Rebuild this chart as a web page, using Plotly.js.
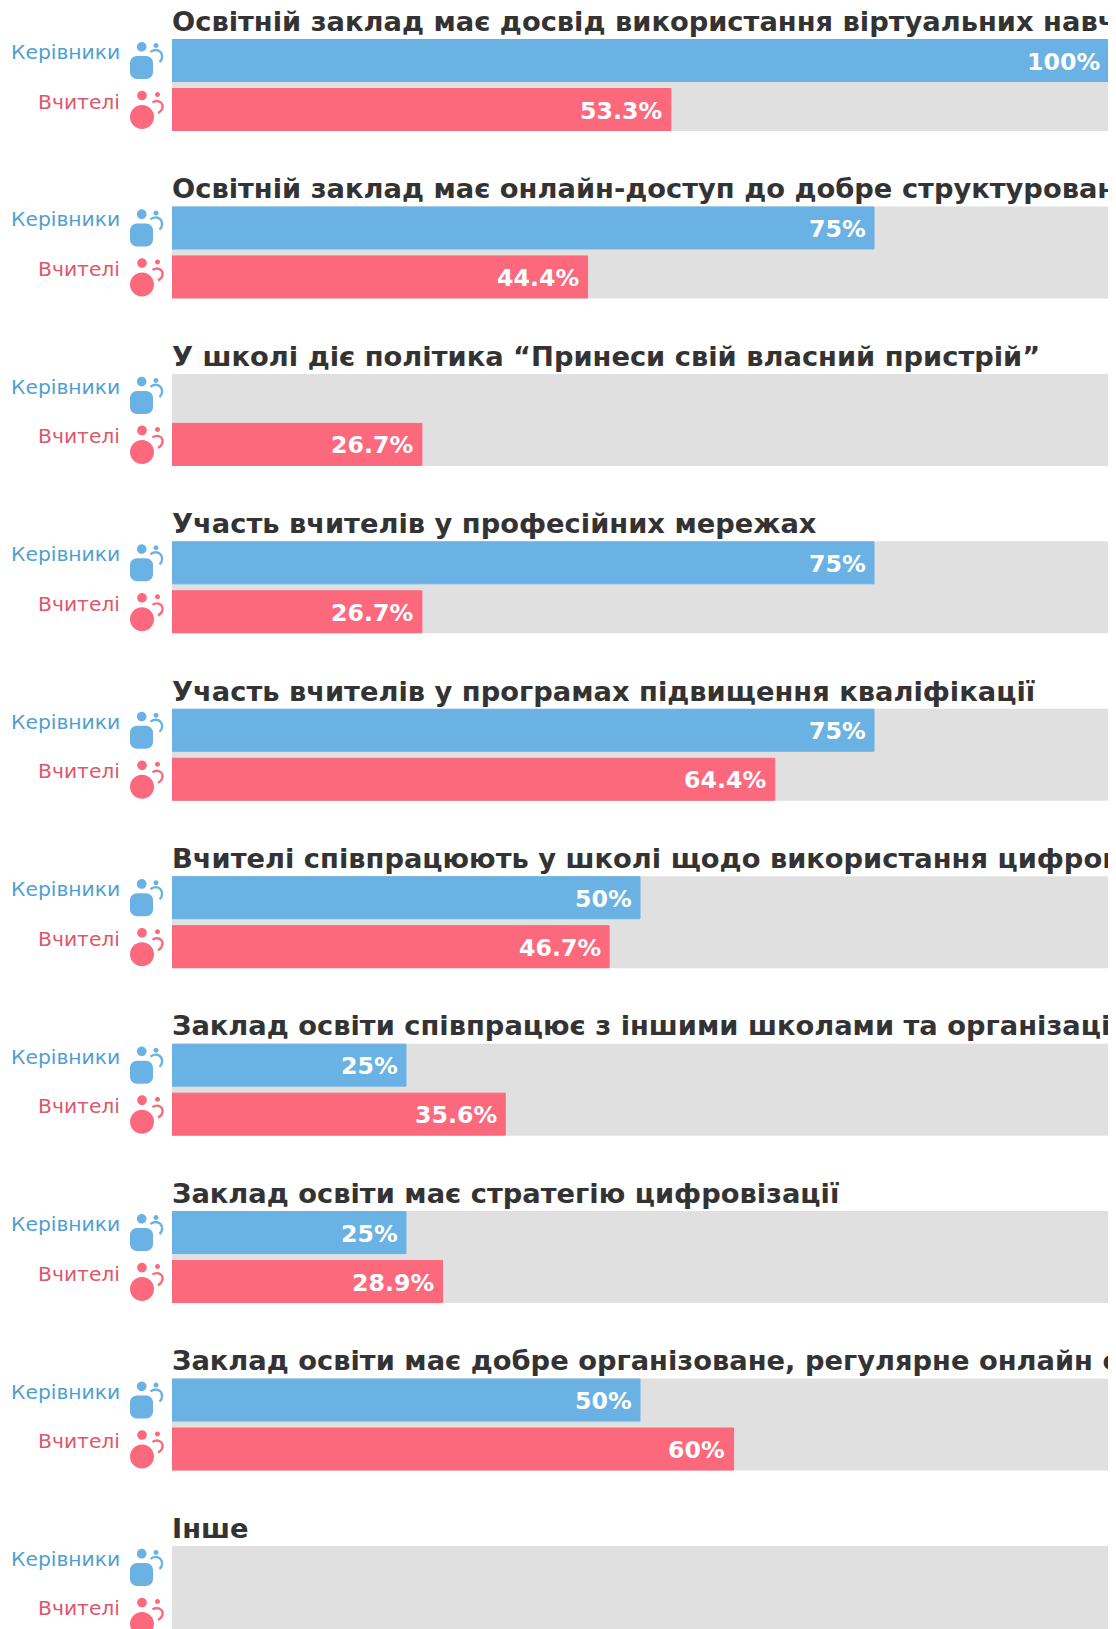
<!DOCTYPE html>
<html lang="uk">
<head>
<meta charset="utf-8">
<script src="https://cdn.plot.ly/plotly-3.0.1.min.js"></script>
<style>html,body{margin:0;padding:0;background:#fff;overflow:hidden}#chart{width:1116px;height:1629px}</style>
</head>
<body>
<div id="chart"></div>
<script>
// ---------- data ----------
const titles = [
  "Освітній заклад має досвід використання віртуальних навчальних середовищ",
  "Освітній заклад має онлайн-доступ до добре структурованих матеріалів",
  "У школі діє політика “Принеси свій власний пристрій”",
  "Участь вчителів у професійних мережах",
  "Участь вчителів у програмах підвищення кваліфікації",
  "Вчителі співпрацюють у школі щодо використання цифрових технологій",
  "Заклад освіти співпрацює з іншими школами та організаціями",
  "Заклад освіти має стратегію цифровізації",
  "Заклад освіти має добре організоване, регулярне онлайн спілкування",
  "Інше"
];
const managerLabel = "Керівники";
const teacherLabel = "Вчителі";
const managers = [100, 75, null, 75, 75, 50, 25, 25, 50, null];
const teachers = [53.3, 44.4, 26.7, 26.7, 64.4, 46.7, 35.6, 28.9, 60, null];
const fullScale = 100;

// ---------- style / layout constants ----------
const W = 1116, H = 1629, L = 172, R = 1108, TOP = 39, ROW = 167.44;
const BLUE = "#6bb2e4", RED = "#fc687c", GREY = "#e0e0e0";
const BLUE_TXT = "#4f9fd1", RED_TXT = "#e0566c", TITLE = "#333333";
const FONT = "DejaVu Sans";
const px = v => v / ROW;                    // pixels -> row units
const rows = titles.map((_, i) => i);
const at = off => rows.map(i => i + px(off));

const traces = [
  {type:"bar", orientation:"h", x:rows.map(() => fullScale), y:at(46), width:px(92),
   marker:{color:GREY}, hoverinfo:"skip", showlegend:false},
  {type:"bar", orientation:"h", name:managerLabel, x:managers, y:at(21.5), width:px(42),
   marker:{color:BLUE, line:{color:BLUE, width:1}}, hoverinfo:"x", showlegend:false},
  {type:"bar", orientation:"h", name:teacherLabel, x:teachers, y:at(70.5), width:px(42),
   marker:{color:RED, line:{color:RED, width:1}}, hoverinfo:"x", showlegend:false},
  {type:"scatter", mode:"text", x:rows.map(() => 0), y:at(-15), text:titles,
   textposition:"middle right", cliponaxis:true, hoverinfo:"skip", showlegend:false,
   textfont:{family:FONT, size:27.3, color:TITLE, weight:700}}
];

const annotations = [];
function valueLabel(v, i, off){
  if(v === null) return;
  annotations.push({x:v, y:i + px(off), xref:"x", yref:"y", text:v + "%", showarrow:false,
    xanchor:"right", yanchor:"middle", xshift:-6.5,
    font:{family:FONT, size:23.7, color:"#ffffff", weight:700}});
}
function sideLabel(txt, col, i, off){
  annotations.push({x:0, y:i + px(off), xref:"paper", yref:"y", text:txt, showarrow:false,
    xanchor:"right", yanchor:"middle", xshift:-50.5,
    font:{family:FONT, size:20.3, color:col}});
}
rows.forEach(i => {
  valueLabel(managers[i], i, 22.5);
  valueLabel(teachers[i], i, 71.5);
  sideLabel(managerLabel, BLUE_TXT, i, 13);
  sideLabel(teacherLabel, RED_TXT, i, 62.5);
});

// icons: paths in pixels relative to (plot left, panel top); y is flipped for Plotly's pixel mode
const K = 0.5523;
const n = v => +v.toFixed(2);
const corner = (x1, y1, x2, y2, x3, y3) => `C${n(x1)},${n(-y1)} ${n(x2)},${n(-y2)} ${n(x3)},${n(-y3)}`;
const c = (cx, cy, r) => {
  const k = K * r;
  return `M${n(cx-r)},${n(-cy)} ` +
    corner(cx-r, cy-k, cx-k, cy-r, cx, cy-r) + " " +
    corner(cx+k, cy-r, cx+r, cy-k, cx+r, cy) + " " +
    corner(cx+r, cy+k, cx+k, cy+r, cx, cy+r) + " " +
    corner(cx-k, cy+r, cx-r, cy+k, cx-r, cy) + " Z";
};
const rr = (x0, y0, x1, y1, r) => {
  const d = r - K * r;
  return `M${n(x0+r)},${n(-y0)} L${n(x1-r)},${n(-y0)} ` + corner(x1-d, y0, x1, y0+d, x1, y0+r) +
    ` L${n(x1)},${n(-(y1-r))} ` + corner(x1, y1-d, x1-d, y1, x1-r, y1) +
    ` L${n(x0+r)},${n(-y1)} ` + corner(x0+d, y1, x0, y1-d, x0, y1-r) +
    ` L${n(x0)},${n(-(y0+r))} ` + corner(x0, y0+d, x0+d, y0, x0+r, y0) + " Z";
};
const shapes = [];
function icon(i, path, col, fill){
  shapes.push({type:"path", xref:"paper", yref:"y", xsizemode:"pixel", ysizemode:"pixel",
    xanchor:0, yanchor:i, path, layer:"above",
    fillcolor:fill ? col : "rgba(0,0,0,0)",
    line:{color:col, width:fill ? 0 : 2.4}});
}
rows.forEach(i => {
  // manager (blue) icon
  icon(i, c(-30.3, 7.7, 4.8), BLUE, true);
  icon(i, rr(-42, 17, -19, 40, 7), BLUE, true);
  icon(i, c(-16, 6.5, 2.5), BLUE, true);
  icon(i, `M-21.5,-13 ` + corner(-19, 10.5, -14, 10, -11.5, 13) + " " + corner(-9, 16, -9.5, 21, -12.5, 23), BLUE, false);
  // teacher (red) icon
  icon(i, c(-30, 56.5, 4.8), RED, true);
  icon(i, c(-30, 78, 12), RED, true);
  icon(i, c(-14.5, 55.5, 2.5), RED, true);
  icon(i, `M-19.5,-63.5 ` + corner(-15, 60.5, -10.5, 62.5, -9.5, 66) + " " + corner(-9, 70, -11, 72.5, -14, 74), RED, false);
});

const layout = {
  width:W, height:H, autosize:false,
  margin:{l:L, r:W-R, t:0, b:0, pad:0},
  paper_bgcolor:"#ffffff", plot_bgcolor:"#ffffff",
  barmode:"overlay", showlegend:false, hovermode:"closest",
  font:{family:FONT},
  xaxis:{visible:false, range:[0, fullScale], fixedrange:true},
  yaxis:{visible:false, range:[(H-TOP)/ROW, -TOP/ROW], fixedrange:true},
  annotations, shapes
};
Plotly.newPlot("chart", traces, layout, {displayModeBar:false, responsive:false});
</script>
</body>
</html>
